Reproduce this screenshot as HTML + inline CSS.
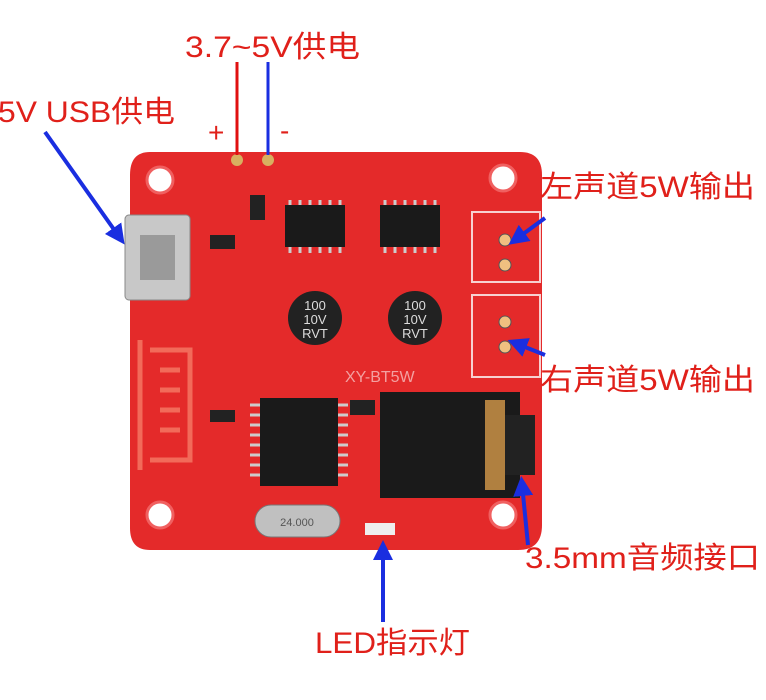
<!DOCTYPE html>
<html><head><meta charset="utf-8"><style>
html,body{margin:0;padding:0;background:#fff;}
svg{display:block}
text{font-family:"Liberation Sans","Noto Sans CJK SC",sans-serif;}
</style></head><body>
<svg width="766" height="700" viewBox="0 0 766 700" xmlns="http://www.w3.org/2000/svg">
<defs>
<marker id="ah" markerWidth="5" markerHeight="5" refX="3" refY="2.5" orient="auto" markerUnits="strokeWidth">
<path d="M0,0 L5,2.5 L0,5 z" fill="#1a2ee0"/></marker>
</defs>
<rect width="766" height="700" fill="#fff"/>
<path d="M150,152 L520,152 Q542,152 542,175 L542,525 Q542,550 518,550 L150,550 Q130,550 130,528 L130,175 Q130,152 150,152 Z" fill="#e42a2a"/>
<g fill="#fff" stroke="#f06060" stroke-width="3">
<circle cx="160" cy="180" r="13"/><circle cx="503" cy="178" r="13"/>
<circle cx="160" cy="515" r="13"/><circle cx="503" cy="515" r="13"/>
</g>
<path d="M140,340 L140,470 M150,350 L190,350 L190,460 L150,460 M160,370 L180,370 M160,390 L180,390 M160,410 L180,410 M160,430 L180,430" stroke="#f26a5a" stroke-width="5" fill="none"/>
<rect x="125" y="215" width="65" height="85" rx="4" fill="#c8c8c8" stroke="#888"/>
<rect x="140" y="235" width="35" height="45" fill="#9a9a9a"/>
<rect x="285" y="205" width="60" height="42" fill="#1a1a1a"/>
<rect x="380" y="205" width="60" height="42" fill="#1a1a1a"/>
<g stroke="#ccc" stroke-width="3">
<path d="M290,200v5M300,200v5M310,200v5M320,200v5M330,200v5M340,200v5M290,247v6M300,247v6M310,247v6M320,247v6M330,247v6M340,247v6"/>
<path d="M385,200v5M395,200v5M405,200v5M415,200v5M425,200v5M435,200v5M385,247v6M395,247v6M405,247v6M415,247v6M425,247v6M435,247v6"/>
</g>
<circle cx="315" cy="318" r="27" fill="#222"/>
<circle cx="415" cy="318" r="27" fill="#222"/>
<text x="315" y="310" font-size="13" fill="#ddd" text-anchor="middle">100</text>
<text x="315" y="324" font-size="13" fill="#ddd" text-anchor="middle">10V</text>
<text x="315" y="338" font-size="13" fill="#ddd" text-anchor="middle">RVT</text>
<text x="415" y="310" font-size="13" fill="#ddd" text-anchor="middle">100</text>
<text x="415" y="324" font-size="13" fill="#ddd" text-anchor="middle">10V</text>
<text x="415" y="338" font-size="13" fill="#ddd" text-anchor="middle">RVT</text>
<text x="345" y="382" font-size="16" fill="#f3a0a0">XY-BT5W</text>
<rect x="260" y="398" width="78" height="88" fill="#1a1a1a"/>
<g stroke="#ccc" stroke-width="3">
<path d="M250,405h10M250,415h10M250,425h10M250,435h10M250,445h10M250,455h10M250,465h10M250,475h10M338,405h10M338,415h10M338,425h10M338,435h10M338,445h10M338,455h10M338,465h10M338,475h10"/>
</g>
<g fill="#222"><rect x="210" y="410" width="25" height="12"/><rect x="350" y="400" width="25" height="15"/><rect x="250" y="195" width="15" height="25"/><rect x="210" y="235" width="25" height="14"/></g>
<rect x="380" y="392" width="140" height="106" fill="#1a1a1a"/>
<rect x="485" y="400" width="20" height="90" fill="#b08040"/>
<rect x="505" y="415" width="30" height="60" fill="#222"/>
<rect x="255" y="505" width="85" height="32" rx="16" fill="#c0c0c0" stroke="#777"/>
<text x="297" y="526" font-size="11" fill="#555" text-anchor="middle">24.000</text>
<rect x="365" y="523" width="30" height="12" fill="#eee"/>
<rect x="472" y="212" width="68" height="70" fill="none" stroke="#f7d0d0" stroke-width="2"/>
<rect x="472" y="295" width="68" height="82" fill="none" stroke="#f7d0d0" stroke-width="2"/>
<g fill="#f0c080" stroke="#555"><circle cx="505" cy="240" r="6"/><circle cx="505" cy="265" r="6"/><circle cx="505" cy="322" r="6"/><circle cx="505" cy="347" r="6"/></g>
<circle cx="237" cy="160" r="6" fill="#d8b060"/><circle cx="268" cy="160" r="6" fill="#d8b060"/>
<line x1="237" y1="62" x2="237" y2="155" stroke="#e01010" stroke-width="3"/>
<line x1="268" y1="62" x2="268" y2="155" stroke="#1a2ee0" stroke-width="3"/>
<text x="208" y="142" font-size="28" fill="#e0201a">+</text>
<text x="280" y="140" font-size="28" fill="#e0201a">-</text>
<g stroke="#1a2ee0" stroke-width="4" fill="none" marker-end="url(#ah)">
<line x1="45" y1="132" x2="120" y2="238"/>
<line x1="545" y1="218" x2="515" y2="240"/>
<line x1="545" y1="355" x2="515" y2="343"/>
<line x1="528" y1="545" x2="522" y2="484"/>
<line x1="383" y1="622" x2="383" y2="548"/>
</g>
<g fill="#e0201a" font-size="30">
<text x="185" y="57" textLength="175" lengthAdjust="spacingAndGlyphs">3.7~5V供电</text>
<text x="-2" y="122" textLength="177" lengthAdjust="spacingAndGlyphs">5V USB供电</text>
<text x="540" y="197" textLength="215" lengthAdjust="spacingAndGlyphs">左声道5W输出</text>
<text x="540" y="390" textLength="215" lengthAdjust="spacingAndGlyphs">右声道5W输出</text>
<text x="525" y="568" textLength="235" lengthAdjust="spacingAndGlyphs">3.5mm音频接口</text>
<text x="315" y="653" textLength="155" lengthAdjust="spacingAndGlyphs">LED指示灯</text>
</g>
</svg>
</body></html>
